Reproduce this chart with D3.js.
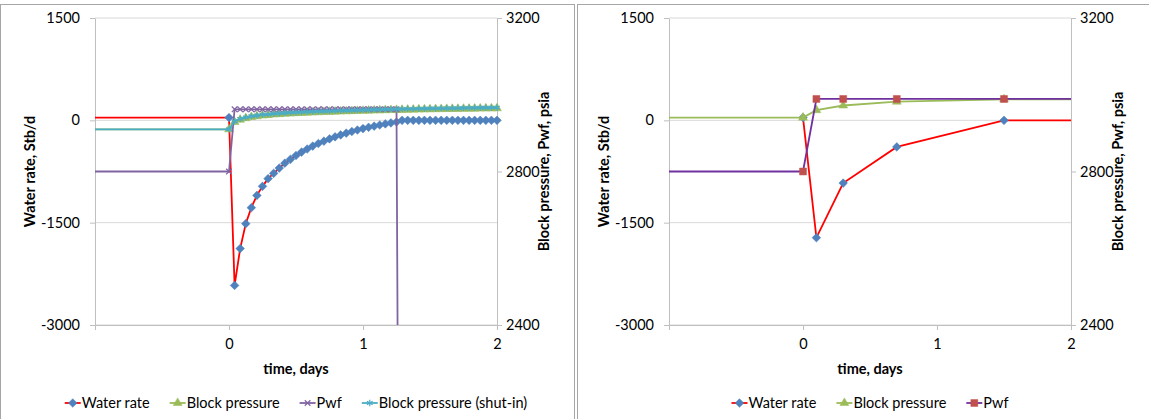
<!DOCTYPE html>
<html>
<head>
<meta charset="utf-8">
<script src="https://cdn.jsdelivr.net/npm/d3@7"></script>
<style>
  body { margin: 0; background: #fff; }
  text { font-family: Lato, "Liberation Sans", sans-serif; fill: #000; }
</style>
</head>
<body>
<div id="chart"></div>
<script>
// ---- data ----
// left chart: hourly steps, time in hours (first point sits before the visible range)
const leftHours = [-48, 0, 1, 2, 3, 4, 5, 6, 7, 8, 9, 10, 11, 12, 13, 14, 15, 16, 17, 18, 19, 20,
  21, 22, 23, 24, 25, 26, 27, 28, 29, 30, 31, 32, 33, 34, 35, 36, 37, 38, 39, 40, 41, 42, 43, 44,
  45, 46, 47, 48];
const leftWaterRate = [40, 40, -2420, -1880, -1515, -1280, -1100, -968, -855, -777, -700, -628,
  -572, -515, -466, -420, -378, -340, -305, -272, -242, -214, -188, -164, -142, -121, -102, -85,
  -68, -52, -38, -24, 0, 0, 0, 0, 0, 0, 0, 0, 0, 0, 0, 0, 0, 0, 0, 0, 0, 0];
const leftBlockPressure = [2910, 2910, 2929, 2935, 2939, 2942, 2944, 2946, 2947, 2948.5, 2949.5,
  2950.5, 2951.3, 2952, 2952.7, 2953.3, 2954, 2954.5, 2955, 2955.5, 2956, 2956.5, 2957, 2957.4,
  2957.8, 2958.2, 2958.6, 2959, 2959.4, 2959.8, 2960.1, 2960.4, 2960.7, 2961, 2961.3, 2961.6,
  2961.9, 2962.2, 2962.5, 2962.7, 2962.9, 2963.1, 2963.3, 2963.5, 2963.7, 2963.9, 2964.1,
  2964.3, 2964.5, 2964.7];
const leftPwf = [2800, 2800, 2962, 2962, 2962, 2962, 2962, 2962, 2962, 2962, 2962, 2962, 2962,
  2962, 2962, 2962, 2962, 2962, 2962, 2962, 2962, 2962, 2962, 2962, 2962, 2962, 2962, 2962, 2962,
  2962, 2962, 2962, 0, 0, 0, 0, 0, 0, 0, 0, 0, 0, 0, 0, 0, 0, 0, 0, 0, 0];
const leftBlockShutIn = [2910, 2910, 2931, 2937, 2941, 2944, 2946, 2948, 2949, 2950.5, 2951.5,
  2952.5, 2953.3, 2954, 2954.7, 2955.3, 2956, 2956.5, 2957, 2957.5, 2958, 2958.5, 2959, 2959.4,
  2959.8, 2960.2, 2960.6, 2961, 2961.4, 2961.8, 2962.1, 2962.4, 2962.8, 2963.1, 2963.4, 2963.7,
  2964, 2964.3, 2964.5, 2964.7, 2964.9, 2965.1, 2965.3, 2965.5, 2965.7, 2965.9, 2966.1, 2966.2,
  2966.3, 2966.4];

// right chart: coarse steps, time in days
const rightDays = [-2, 0, 0.1, 0.3, 0.7, 1.5, 3];
const rightRateDays = [0, 0.1, 0.3, 0.7, 1.5, 3];
const rightWaterRate = [40, -1720, -920, -390, 0, 0];
const rightBlockPressure = [2940.5, 2940.5, 2960, 2972, 2982, 2988, 2989];
const rightPwf = [2800, 2800, 2989, 2989, 2989, 2989, 2989];

const xTicks = [-1, 0, 1, 2];
const rateTicks = [-3000, -1500, 0, 1500];
const pressureTicks = [2400, 2800, 3200];

const leftDays = leftHours.map((h) => h / 24);

const W = 1149, H = 419;
const PLOT = { TOP: 18, BOTTOM: 325, WIDTH: 402 };

const svg = d3.select("#chart").append("svg")
  .attr("width", W).attr("height", H)
  .style("background", "white");

// panel frames
svg.append("rect").attr("x", 0.5).attr("y", 4.5).attr("width", 574).attr("height", 430)
  .attr("fill", "none").attr("stroke", "#a6a6a6");
svg.append("rect").attr("x", 577.5).attr("y", 4.5).attr("width", 580).attr("height", 430)
  .attr("fill", "none").attr("stroke", "#a6a6a6");

const marker = {
  diamond: d3.symbol().type(d3.symbolDiamond2).size(48),
  triangle: d3.symbol().type(d3.symbolTriangle).size(34),
  square: d3.symbol().type(d3.symbolSquare).size(48),
  cross: d3.symbol().type(d3.symbolX).size(22),
  star: d3.symbol().type(d3.symbolAsterisk).size(30),
};

function drawChart(id, left, series) {
  const g = svg.append("g").attr("transform", `translate(${left}, 0)`);

  const x = d3.scaleLinear().domain([-1, 2]).range([0, PLOT.WIDTH]);
  const yRate = d3.scaleLinear().domain([-3000, 1500]).range([PLOT.BOTTOM, PLOT.TOP]);
  const yPres = d3.scaleLinear().domain([2400, 3200]).range([PLOT.BOTTOM, PLOT.TOP]);

  // gridlines
  g.append("g").selectAll("line").data(rateTicks).join("line")
    .attr("x1", 0).attr("x2", PLOT.WIDTH)
    .attr("y1", (d) => yRate(d)).attr("y2", (d) => yRate(d))
    .attr("stroke", "#d9d9d9");

  const axisStyle = (sel) => {
    sel.selectAll(".domain").attr("stroke", "#bfbfbf");
    sel.selectAll(".tick line").attr("stroke", "#bfbfbf");
    sel.selectAll(".tick text").style("font-size", "14.5px").attr("fill", "#000");
  };
  const plain = (d) => String(d);

  g.append("g")
    .call(d3.axisLeft(yRate).tickValues(rateTicks).tickSize(5).tickPadding(10).tickSizeOuter(0)
      .tickFormat(plain))
    .call(axisStyle);
  g.append("g").attr("transform", `translate(${PLOT.WIDTH}, 0)`)
    .call(d3.axisRight(yPres).tickValues(pressureTicks).tickSize(5).tickPadding(4).tickSizeOuter(0)
      .tickFormat(plain))
    .call(axisStyle);
  g.append("g").attr("transform", `translate(0, ${PLOT.BOTTOM})`)
    .call(d3.axisBottom(x).tickValues(xTicks).tickSize(5).tickPadding(9).tickSizeOuter(0)
      .tickFormat((d) => (d < 0 ? "" : plain(d))))
    .call(axisStyle);

  // axis titles
  g.append("text")
    .attr("transform", `translate(${-65}, ${(PLOT.TOP + PLOT.BOTTOM) / 2}) rotate(-90)`)
    .attr("text-anchor", "middle").attr("dy", "0.35em")
    .style("font-size", "14.5px").style("font-weight", "bold")
    .text("Water rate, Stb/d");
  g.append("text")
    .attr("transform", `translate(${PLOT.WIDTH + 47}, ${(PLOT.TOP + PLOT.BOTTOM) / 2}) rotate(-90)`)
    .attr("text-anchor", "middle").attr("dy", "0.35em")
    .style("font-size", "14.5px").style("font-weight", "bold")
    .text("Block pressure, Pwf, psia");
  g.append("text")
    .attr("x", PLOT.WIDTH / 2).attr("y", 374)
    .attr("text-anchor", "middle")
    .style("font-size", "14.5px").style("font-weight", "bold")
    .text("time, days");

  // clip for the lines
  g.append("clipPath").attr("id", id + "-clip")
    .append("rect").attr("x", 0).attr("y", PLOT.TOP)
    .attr("width", PLOT.WIDTH).attr("height", PLOT.BOTTOM - PLOT.TOP);

  series.forEach((s) => {
    const y = s.axis === "rate" ? yRate : yPres;
    const pts = s.t.map((t, i) => [t, s.v[i]]);
    const line = d3.line().x((d) => x(d[0])).y((d) => y(d[1]));
    const sg = g.append("g");
    sg.append("path")
      .attr("d", line(pts))
      .attr("fill", "none")
      .attr("stroke", s.line)
      .attr("stroke-width", 1.8)
      .attr("clip-path", `url(#${id}-clip)`);
    const inside = pts.filter((d) => d[0] >= -1 && d[0] <= 2 &&
      d[1] >= y.domain()[0] && d[1] <= y.domain()[1]);
    sg.selectAll("path.mk").data(inside).join("path")
      .attr("class", "mk")
      .attr("transform", (d) => `translate(${x(d[0])}, ${y(d[1])})`)
      .attr("d", marker[s.marker])
      .attr("fill", s.markerFill ? s.mark : "none")
      .attr("stroke", s.mark)
      .attr("stroke-width", s.markerFill ? 0.5 : 1.2);
  });

  // legend, centred under the plot
  const lg = g.append("g");
  let cx = 0;
  series.forEach((s) => {
    const it = lg.append("g").attr("transform", `translate(${cx}, 0)`);
    it.append("line").attr("x1", 0).attr("x2", 16).attr("y1", 0).attr("y2", 0)
      .attr("stroke", s.line).attr("stroke-width", 1.8);
    it.append("path").attr("transform", "translate(8, 0)")
      .attr("d", marker[s.marker])
      .attr("fill", s.markerFill ? s.mark : "none")
      .attr("stroke", s.mark).attr("stroke-width", s.markerFill ? 0.5 : 1.2);
    const txt = it.append("text").attr("x", 17).attr("dy", "0.35em")
      .style("font-size", "14.5px").text(s.name);
    cx += 17 + txt.node().getComputedTextLength() + 20;
  });
  const total = cx - 20;
  lg.attr("transform", `translate(${PLOT.WIDTH / 2 - total / 2}, 403)`);
}

drawChart("left", 95, [
  { name: "Water rate", t: leftDays, v: leftWaterRate, axis: "rate",
    line: "#ff0000", mark: "#4f81bd", marker: "diamond", markerFill: true },
  { name: "Block pressure", t: leftDays, v: leftBlockPressure, axis: "pres",
    line: "#9bbb59", mark: "#9bbb59", marker: "triangle", markerFill: true },
  { name: "Pwf", t: leftDays, v: leftPwf, axis: "pres",
    line: "#8064a2", mark: "#8064a2", marker: "cross", markerFill: false },
  { name: "Block pressure (shut-in)", t: leftDays, v: leftBlockShutIn, axis: "pres",
    line: "#4bacc6", mark: "#4bacc6", marker: "star", markerFill: false },
]);

drawChart("right", 669, [
  { name: "Water rate", t: rightRateDays, v: rightWaterRate, axis: "rate",
    line: "#ff0000", mark: "#4f81bd", marker: "diamond", markerFill: true },
  { name: "Block pressure", t: rightDays, v: rightBlockPressure, axis: "pres",
    line: "#9bbb59", mark: "#9bbb59", marker: "triangle", markerFill: true },
  { name: "Pwf", t: rightDays, v: rightPwf, axis: "pres",
    line: "#7030a0", mark: "#c0504d", marker: "square", markerFill: true },
]);
</script>
</body>
</html>
